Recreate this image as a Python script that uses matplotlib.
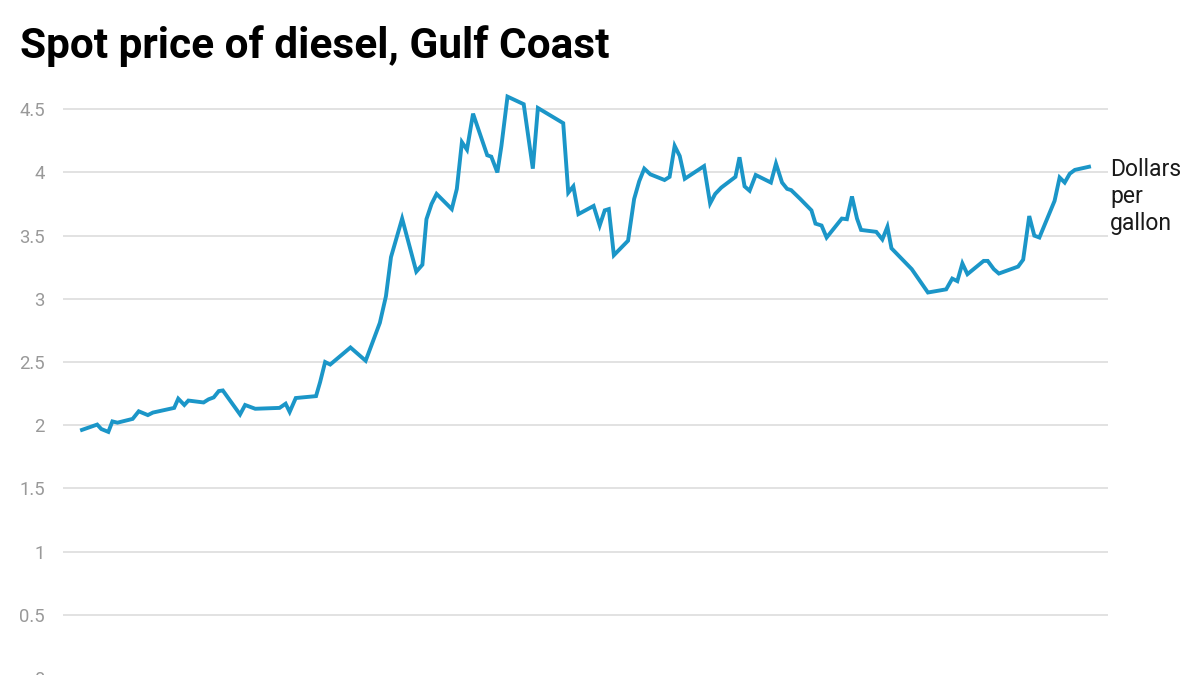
import matplotlib
matplotlib.use("Agg")
import matplotlib.pyplot as plt
import pandas as pd

plt.rcParams['font.family'] = ['Roboto', 'DejaVu Sans']

title = "Spot price of diesel, Gulf Coast"
unit_label = "Dollars\nper\ngallon"
start_date = "2021-01-04"

# days since start_date
day = [0, 15, 19, 26, 30, 35, 50, 56, 65, 70, 91, 95, 101, 105, 120, 125, 130, 135, 139,
       156, 161, 171, 195, 201, 205, 211, 231, 235, 240, 245, 265, 280, 294, 300, 305, 316,
       330, 336, 340, 345, 350, 365, 370, 375, 380, 386, 400, 404, 410, 414, 420, 436, 445,
       450, 475, 480, 485, 490, 505, 511, 516, 520, 525, 539, 545, 550, 555, 561, 575, 580,
       585, 590, 595, 614, 620, 625, 631, 645, 649, 654, 659, 665, 680, 685, 691, 696, 700,
       709, 720, 724, 730, 735, 750, 755, 760, 765, 769, 784, 790, 795, 799, 819, 835, 853,
       859, 864, 869, 874, 890, 894, 900, 905, 924, 929, 935, 940, 945, 960, 965, 970, 975,
       980, 994]

price = [1.963, 2.005, 1.97, 1.947, 2.03, 2.02, 2.05, 2.11, 2.08, 2.10, 2.137, 2.21, 2.16,
         2.195, 2.18, 2.205, 2.22, 2.27, 2.275, 2.085, 2.16, 2.13, 2.137, 2.17, 2.105, 2.215,
         2.23, 2.34, 2.50, 2.48, 2.615, 2.51, 2.81, 3.02, 3.33, 3.635, 3.215, 3.27, 3.63, 3.75,
         3.83, 3.71, 3.87, 4.24, 4.18, 4.465, 4.136, 4.125, 4.0, 4.21, 4.60, 4.54, 4.03, 4.51,
         4.39, 3.84, 3.89, 3.67, 3.735, 3.58, 3.70, 3.71, 3.345, 3.46, 3.79, 3.93, 4.03, 3.985,
         3.94, 3.965, 4.21, 4.13, 3.95, 4.05, 3.755, 3.83, 3.88, 3.965, 4.12, 3.89, 3.855, 3.98,
         3.92, 4.07, 3.92, 3.87, 3.86, 3.79, 3.70, 3.595, 3.58, 3.485, 3.635, 3.63, 3.81, 3.635,
         3.545, 3.53, 3.47, 3.57, 3.40, 3.235, 3.05, 3.075, 3.16, 3.14, 3.28, 3.195, 3.30, 3.30,
         3.235, 3.20, 3.255, 3.31, 3.655, 3.50, 3.485, 3.775, 3.96, 3.92, 3.99, 4.02, 4.045]

yticks = [0, 0.5, 1, 1.5, 2, 2.5, 3, 3.5, 4, 4.5]
ytick_labels = ["0", "0.5", "1", "1.5", "2", "2.5", "3", "3.5", "4", "4.5"]

dates = pd.Timestamp(start_date) + pd.to_timedelta(day, unit="D")

fig = plt.figure(figsize=(12, 6.75), dpi=100)
ax = fig.add_axes([0.0525, -0.0044, 0.8708, 0.88])

ax.plot(dates, price, color="#1b96c8", linewidth=2.8, solid_joinstyle="miter", zorder=3)

ax.set_ylim(0, 4.7)
ax.set_xlim(pd.Timestamp(start_date) - pd.Timedelta(days=18.75),
            pd.Timestamp(start_date) + pd.Timedelta(days=1012.7))
ax.set_yticks(yticks)
ax.set_yticklabels(ytick_labels)
ax.set_xticks([])
ax.yaxis.grid(True, color="#dddddd", linewidth=1.2)
ax.set_axisbelow(True)
for s in ax.spines.values():
    s.set_visible(False)
ax.tick_params(axis="y", length=0, pad=13, labelsize=13.3, labelcolor="#999999")

fig.text(20 / 1200, 1 - 58 / 675, title, fontsize=30.5, fontweight="bold",
         color="#000000", va="baseline", ha="left")

ax.annotate(unit_label, xy=(1, 4.045), xycoords=("axes fraction", "data"),
            xytext=(1.5, 6), textcoords="offset points", fontsize=16.5,
            color="#1a1a1a", va="top", ha="left", linespacing=1.2,
            annotation_clip=False)
fig.savefig("out.png", dpi=100)
